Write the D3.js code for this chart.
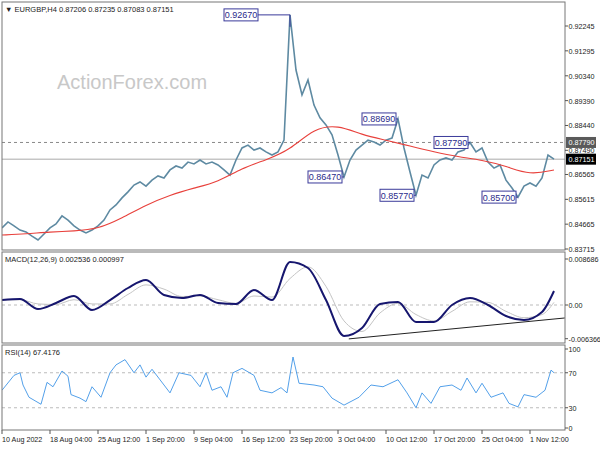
<!DOCTYPE html>
<html>
<head>
<meta charset="utf-8">
<script src="https://cdn.jsdelivr.net/npm/d3@7"></script>
<style>
	body { margin: 0; background: #fff; }
	text { font-family: "Liberation Sans", Arial, sans-serif; }
</style>
</head>
<body>
<script>
(function () {
	"use strict";

	// closes, one per slot (each slot ~ a few H4 bars)
	var closes = [0.8452, 0.8475, 0.8460, 0.8444, 0.8437, 0.8421, 0.8406, 0.8429, 0.8452, 0.8467,
		0.8498, 0.8482, 0.8460, 0.8444, 0.8433, 0.8444, 0.8460, 0.8482, 0.8521, 0.8540,
		0.8567, 0.8590, 0.8616, 0.8628, 0.8612, 0.8635, 0.8651, 0.8643, 0.8674, 0.8689,
		0.8681, 0.8704, 0.8697, 0.8712, 0.8697, 0.8704, 0.8693, 0.8674, 0.8654, 0.8712,
		0.8758, 0.8769, 0.8750, 0.8758, 0.8743, 0.8731, 0.8743, 0.8788, 0.9267, 0.9056,
		0.8961, 0.9018, 0.8922, 0.8873, 0.8846, 0.8808, 0.8731, 0.8647, 0.8712, 0.8750,
		0.8769, 0.8788, 0.8781, 0.8769, 0.8788, 0.8796, 0.8869, 0.8758, 0.8666, 0.8577,
		0.8654, 0.8643, 0.8693, 0.8712, 0.8720, 0.8712, 0.8743, 0.8750, 0.8779, 0.8743,
		0.8758, 0.8704, 0.8681, 0.8693, 0.8635, 0.8605, 0.8570, 0.8612, 0.8624, 0.8612,
		0.8643, 0.8731, 0.8715];

	var maBars = [0, 4, 8, 12, 16, 20, 24, 28, 32, 36, 40, 44, 48, 52, 56, 60, 64, 68, 72, 76, 80, 84, 88, 92];
	var maVals = [0.8425, 0.8429, 0.8437, 0.8440, 0.8448, 0.8490, 0.8540, 0.8578, 0.8605, 0.8628, 0.8681, 0.8712,
		0.8750, 0.8834, 0.8846, 0.8808, 0.8788, 0.8765, 0.8743, 0.8724, 0.8712, 0.8689, 0.8654, 0.8674];

	var priceTicks = [0.92245, 0.91295, 0.90340, 0.89390, 0.88440, 0.87490, 0.86565, 0.85615, 0.84665, 0.83715];

	var pivots = [
		{ bar: 48, price: 0.92670, gap: 32 },
		{ bar: 66, price: 0.88690, gap: 2 },
		{ bar: 57, price: 0.86470, gap: 2 },
		{ bar: 69, price: 0.85770, gap: 2 },
		{ bar: 78, price: 0.87790, gap: 2 },
		{ bar: 86, price: 0.85700, gap: 2 }
	];
	var resistance = 0.87790;
	var lastPrice = 0.87151;

	var macdBars = [0, 3, 6, 9, 12, 15, 18, 21, 24, 27, 30, 33, 36, 39, 42, 45, 48, 51, 54, 57, 60,
		63, 66, 69, 72, 75, 78, 81, 84, 87, 90, 92];
	var macdVals = [0.00094, 0.00113, -0.00076, 0.00038, 0.00170, -0.00094, 0.00094, 0.00321, 0.00472, 0.00189,
		0.00132, 0.00189, 0.00038, 0.00019, 0.00283, 0.00094, 0.00812, 0.00699, 0.00094, -0.00585, -0.00434,
		0.00019, 0.00057, -0.00321, -0.00321, 0, 0.00132, 0, -0.00208, -0.00283, -0.00132, 0.00264];
	var signalVals = [0.0009, 0.0010, 0.0002, 0.0001, 0.0010, 0.0002, 0.0002, 0.0020, 0.0038, 0.0030,
		0.0016, 0.0017, 0.0010, 0.0003, 0.0017, 0.0015, 0.0050, 0.0072, 0.0035, -0.0030, -0.0050,
		-0.0015, 0.0003, -0.0018, -0.0030, -0.0012, 0.0006, 0.0005, -0.0012, -0.0024, -0.0018, 0.0005];
	var macdTrend = [{ bar: 57.8, v: -0.0064 }, { bar: 93.8, v: -0.00245 }];
	var macdTicks = [0.008686, 0, -0.006366];

	var rsiBars = [0, 2, 3, 3.5, 4.5, 6.5, 7.5, 8.5, 10, 11, 11.5, 13, 14, 15, 16.5, 18, 19, 20.5, 22, 23, 24, 25,
		28, 29.5, 31.5, 33, 34, 35, 36.5, 37.5, 38.5, 40, 42, 43, 45, 46.5, 47.5, 48.5, 49.5, 52, 53.5, 55, 57,
		59.5, 61.5, 63.5, 66, 67.5, 69, 70, 71.5, 73, 75, 76.5, 77.5, 79, 80, 81.5, 83.5, 84.5, 86, 87, 89, 90.5, 91.5, 92];
	var rsiVals = [50, 67, 70, 56, 42, 34, 59, 54, 72, 66, 45, 41, 37, 54, 42, 70, 79, 85, 70, 79, 65, 74,
		47, 70, 67, 54, 70, 50, 54, 42, 70, 75, 67, 50, 47, 53, 47, 88, 58, 56, 54, 41, 33,
		42, 56, 54, 62, 47, 30, 47, 35, 54, 56, 50, 64, 47, 58, 42, 47, 35, 31, 45, 42, 50, 73, 70];
	var rsiTicks = [100, 70, 30, 0];

	var dateBars = [0, 8, 16, 24, 32, 40, 48, 56, 64, 72, 80, 88];
	var dateLabels = ["10 Aug 2022", "18 Aug 04:00", "25 Aug 12:00", "1 Sep 20:00", "9 Sep 04:00", "16 Sep 12:00",
		"23 Sep 20:00", "3 Oct 04:00", "10 Oct 12:00", "17 Oct 20:00", "25 Oct 04:00", "1 Nov 12:00"];

	var LEFT = 2, RIGHT = 565;
	var MAIN = [2, 250], MACD = [252, 343], RSI = [345, 430];
	var FS = 7.2;

	var svg = d3.select("body").append("svg").attr("width", 600).attr("height", 450);

	var x = d3.scaleLinear().domain([0, 92]).range([2, 554]);
	var yP = d3.scaleLinear().domain([0.83715, 0.92245]).range([249, 26]);
	var yM = d3.scaleLinear().domain([0, 0.008686]).range([305, 259]);
	var yR = d3.scaleLinear().domain([0, 100]).range([434, 346.5]);

	function clip(id, band) {
		svg.append("clipPath").attr("id", id).append("rect")
			.attr("x", LEFT).attr("y", band[0]).attr("width", RIGHT - LEFT).attr("height", band[1] - band[0]);
	}
	clip("cMain", MAIN); clip("cMacd", MACD); clip("cRsi", RSI);

	function frame(band) {
		svg.append("rect").attr("x", LEFT).attr("y", band[0]).attr("width", RIGHT - LEFT)
			.attr("height", band[1] - band[0]).attr("fill", "none").attr("stroke", "#777");
	}

	function hline(g, y, color, dash) {
		g.append("line").attr("x1", LEFT).attr("x2", RIGHT).attr("y1", y).attr("y2", y)
			.attr("stroke", color).attr("stroke-dasharray", dash || null);
	}

	function rightLabels(ticks, scale, fmt) {
		ticks.forEach(function (t) {
			svg.append("line").attr("x1", RIGHT).attr("x2", RIGHT + 3).attr("y1", scale(t)).attr("y2", scale(t)).attr("stroke", "#555");
			svg.append("text").attr("x", RIGHT + 3.5).attr("y", scale(t) + 3).attr("font-size", FS).attr("fill", "#222").text(fmt(t));
		});
	}

	// watermark
	svg.append("text").attr("x", 57).attr("y", 89).attr("font-size", 20).attr("fill", "#c8c8c8").text("ActionForex.com");

	// main panel
	var gMain = svg.append("g").attr("clip-path", "url(#cMain)");
	hline(gMain, yP(resistance), "#888", "3,3");
	hline(gMain, yP(lastPrice), "#aaa");
	gMain.append("path").datum(closes)
		.attr("d", d3.line().x(function (d, i) { return x(i); }).y(function (d) { return yP(d); }))
		.attr("fill", "none").attr("stroke", "#5e8aa2").attr("stroke-width", 1.6);
	gMain.append("path").datum(maVals)
		.attr("d", d3.line().curve(d3.curveBasis).x(function (d, i) { return x(maBars[i]); }).y(function (d) { return yP(d); }))
		.attr("fill", "none").attr("stroke", "#e8413c").attr("stroke-width", 1.1);

	pivots.forEach(function (p) {
		var px = x(p.bar), py = yP(p.price), w = 34, right = px - p.gap;
		gMain.append("line").attr("x1", right).attr("x2", px).attr("y1", py).attr("y2", py).attr("stroke", "#3a3a9a");
		if (p.gap > 2) {
			gMain.append("line").attr("x1", px).attr("x2", px).attr("y1", py).attr("y2", py + 12).attr("stroke", "#3a3a9a");
		}
		gMain.append("rect").attr("x", right - w).attr("y", py - 6).attr("width", w).attr("height", 12)
			.attr("fill", "#fff").attr("stroke", "#3a3a9a");
		gMain.append("text").attr("x", right - w / 2).attr("y", py + 3.5).attr("text-anchor", "middle")
			.attr("font-size", 9).attr("fill", "#2a2a8a").text(p.price.toFixed(5));
	});
	frame(MAIN);
	svg.append("text").attr("x", 5).attr("y", 12).attr("font-size", 7.5).attr("fill", "#222")
		.text("\u25BC EURGBP,H4  0.87206 0.87235 0.87083 0.87151");
	rightLabels(priceTicks, yP, function (t) { return t.toFixed(5); });
	[{ v: resistance, bg: "#5a5a5a" }, { v: lastPrice, bg: "#000" }].forEach(function (m) {
		svg.append("rect").attr("x", RIGHT + 1).attr("y", yP(m.v) - 5.5).attr("width", 30).attr("height", 11).attr("fill", m.bg);
		svg.append("text").attr("x", RIGHT + 3.5).attr("y", yP(m.v) + 3).attr("font-size", FS).attr("fill", "#fff").text(m.v.toFixed(5));
	});

	// MACD panel
	var gMacd = svg.append("g").attr("clip-path", "url(#cMacd)");
	hline(gMacd, yM(0), "#bbb", "3,3");
	gMacd.append("path").datum(signalVals)
		.attr("d", d3.line().curve(d3.curveMonotoneX).x(function (d, i) { return x(macdBars[i]); }).y(function (d) { return yM(d); }))
		.attr("fill", "none").attr("stroke", "#c4c4c4").attr("stroke-width", 1);
	gMacd.append("path").datum(macdVals)
		.attr("d", d3.line().curve(d3.curveMonotoneX).x(function (d, i) { return x(macdBars[i]); }).y(function (d) { return yM(d); }))
		.attr("fill", "none").attr("stroke", "#16166e").attr("stroke-width", 2);
	gMacd.append("path").datum(macdTrend)
		.attr("d", d3.line().x(function (d) { return x(d.bar); }).y(function (d) { return yM(d.v); }))
		.attr("stroke", "#222").attr("fill", "none");
	frame(MACD);
	svg.append("text").attr("x", 5).attr("y", 262).attr("font-size", 7.5).attr("fill", "#222").text("MACD(12,26,9) 0.002536 0.000997");
	rightLabels(macdTicks, yM, function (t) { return t === 0 ? "0.00" : t.toFixed(6); });

	// RSI panel
	var gRsi = svg.append("g").attr("clip-path", "url(#cRsi)");
	hline(gRsi, yR(70), "#bbb", "3,3");
	hline(gRsi, yR(30), "#bbb", "3,3");
	gRsi.append("path").datum(rsiVals)
		.attr("d", d3.line().x(function (d, i) { return x(rsiBars[i]); }).y(function (d) { return yR(d); }))
		.attr("fill", "none").attr("stroke", "#3f95e6").attr("stroke-width", 0.9);
	frame(RSI);
	svg.append("text").attr("x", 5).attr("y", 355).attr("font-size", 7.5).attr("fill", "#222").text("RSI(14) 67.4176");
	rightLabels(rsiTicks, function (t) { return Math.max(RSI[0] + 4, Math.min(RSI[1] - 2, yR(t))); }, String);

	// time axis
	dateBars.forEach(function (b, i) {
		svg.append("line").attr("x1", x(b)).attr("x2", x(b)).attr("y1", RSI[1]).attr("y2", RSI[1] + 4).attr("stroke", "#555");
		svg.append("text").attr("x", x(b)).attr("y", 442).attr("font-size", FS).attr("fill", "#222").text(dateLabels[i]);
	});
}());
</script>
</body>
</html>
